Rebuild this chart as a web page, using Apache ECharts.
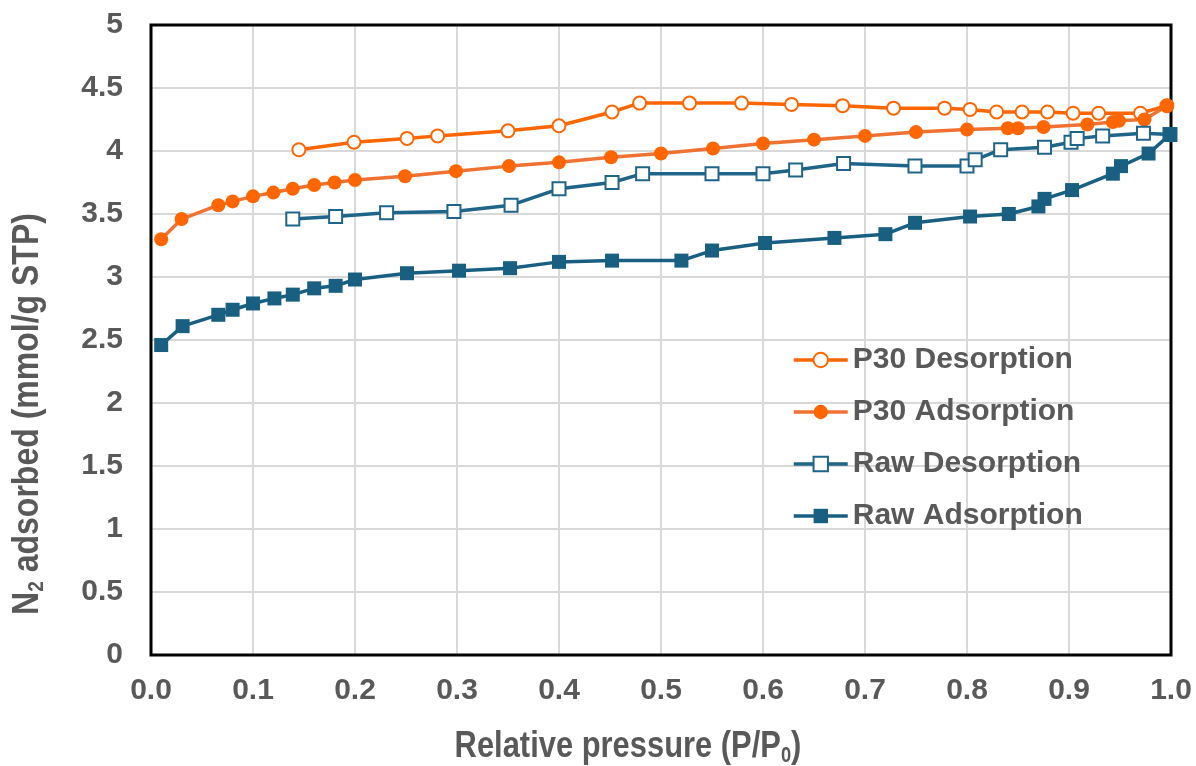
<!DOCTYPE html>
<html>
<head>
<meta charset="utf-8">
<script src="https://cdn.jsdelivr.net/npm/echarts@6/dist/echarts.min.js"></script>
<style>html,body{margin:0;padding:0;background:#fff;}#c{width:1196px;height:766px;}</style>
</head>
<body>
<div id="c"></div>
<script>
const seriesNames = ['P30 Desorption', 'P30 Adsorption', 'Raw Desorption', 'Raw Adsorption'];
const p30DesX = [0.145,0.199,0.251,0.281,0.350,0.400,0.452,0.479,0.528,0.579,0.628,0.678,0.728,0.778,0.803,0.829,0.854,0.879,0.904,0.929,0.970,0.996];
const p30DesY = [4.01,4.07,4.10,4.12,4.16,4.20,4.31,4.38,4.38,4.38,4.37,4.36,4.34,4.34,4.33,4.31,4.31,4.31,4.30,4.30,4.30,4.36];
const p30AdsX = [0.010,0.030,0.066,0.080,0.100,0.120,0.139,0.160,0.180,0.200,0.249,0.299,0.351,0.400,0.451,0.500,0.551,0.600,0.650,0.700,0.750,0.800,0.840,0.850,0.875,0.918,0.943,0.949,0.974,0.996];
const p30AdsY = [3.30,3.46,3.57,3.60,3.64,3.67,3.70,3.73,3.75,3.77,3.80,3.84,3.88,3.91,3.95,3.98,4.02,4.06,4.09,4.12,4.15,4.17,4.18,4.18,4.19,4.21,4.23,4.24,4.25,4.36];
const rawDesX = [0.139,0.181,0.231,0.297,0.353,0.400,0.452,0.482,0.550,0.600,0.632,0.679,0.749,0.800,0.808,0.833,0.876,0.902,0.908,0.933,0.973,0.999];
const rawDesY = [3.46,3.48,3.51,3.52,3.57,3.70,3.75,3.82,3.82,3.82,3.85,3.90,3.88,3.88,3.93,4.01,4.03,4.07,4.10,4.12,4.14,4.13];
const rawAdsX = [0.010,0.031,0.066,0.080,0.100,0.121,0.139,0.160,0.181,0.200,0.251,0.302,0.352,0.400,0.452,0.520,0.550,0.602,0.670,0.720,0.749,0.803,0.841,0.870,0.876,0.903,0.943,0.951,0.978,0.999];
const rawAdsY = [2.46,2.61,2.70,2.74,2.79,2.83,2.86,2.91,2.93,2.98,3.03,3.05,3.07,3.12,3.13,3.13,3.21,3.27,3.31,3.34,3.43,3.48,3.50,3.56,3.62,3.69,3.82,3.88,3.98,4.13];
const xAxisTitle = 'Relative pressure (P/P';
const xAxisTitleSub = '0';
const yAxisTitleMain = 'N';
const yAxisTitleSub = '2';
const yAxisTitleRest = ' adsorbed (mmol/g STP)';

const zip = (xs, ys) => xs.map((x, i) => [x, ys[i]]);
const ORANGE = '#FF6600';
const ORANGE_LINE = '#F07232';
const BLUE = '#185F82';
const BLUE2 = '#1E6589';
const TXT = '#595959';
const FF = '"Liberation Sans", Arial, sans-serif';

const titleRich = {
  a: {fontSize: 37, fontWeight: 'bold', fontFamily: FF, fill: TXT},
  s: {fontSize: 22, fontWeight: 'bold', fontFamily: FF, fill: TXT, verticalAlign: 'bottom', padding: [18, 0, 0, 0]}
};

const chart = echarts.init(document.getElementById('c'), null, {renderer: 'canvas'});
chart.setOption({
  animation: false,
  backgroundColor: '#fff',
  grid: {left: 151, right: 25, top: 25, bottom: 111, show: true, borderColor: '#000', borderWidth: 3, backgroundColor: 'transparent', z: 3},
  xAxis: {
    type: 'value', min: 0, max: 1, interval: 0.1,
    axisLine: {show: false}, axisTick: {show: false},
    splitLine: {show: true, lineStyle: {color: '#D9D9D9', width: 2}},
    axisLabel: {formatter: v => v.toFixed(1), fontSize: 30, fontWeight: 'bold', color: TXT, fontFamily: FF, margin: 21}
  },
  yAxis: {
    type: 'value', min: 0, max: 5, interval: 0.5,
    axisLine: {show: false}, axisTick: {show: false},
    splitLine: {show: true, lineStyle: {color: '#D9D9D9', width: 2}},
    axisLabel: {fontSize: 30, fontWeight: 'bold', color: TXT, fontFamily: FF, margin: 28}
  },
  legend: {
    orient: 'vertical', left: 787, top: 339, itemWidth: 54, itemHeight: 18, itemGap: 20,
    data: seriesNames,
    lineStyle: {width: 3.5},
    textStyle: {fontSize: 30, fontWeight: 'bold', color: TXT, fontFamily: FF, lineHeight: 32}
  },
  graphic: [
    {type: 'text', x: 628, y: 747, scaleX: 0.835, style: {
      text: '{a|' + xAxisTitle + '}{s|' + xAxisTitleSub + '}{a|)}',
      align: 'center', verticalAlign: 'middle', rich: titleRich
    }},
    {type: 'text', x: 28, y: 414, rotation: Math.PI / 2, scaleX: 0.865, style: {
      text: '{a|' + yAxisTitleMain + '}{s|' + yAxisTitleSub + '}{a|' + yAxisTitleRest + '}',
      align: 'center', verticalAlign: 'middle', rich: titleRich
    }}
  ],
  series: [
    {name: seriesNames[0], type: 'line', data: zip(p30DesX, p30DesY), symbol: 'emptyCircle', symbolSize: 13,
      lineStyle: {color: ORANGE, width: 3.5}, itemStyle: {color: ORANGE, borderColor: ORANGE, borderWidth: 2}},
    {name: seriesNames[1], type: 'line', data: zip(p30AdsX, p30AdsY), symbol: 'circle', symbolSize: 14,
      lineStyle: {color: ORANGE_LINE, width: 3.5}, itemStyle: {color: ORANGE}},
    {name: seriesNames[2], type: 'line', data: zip(rawDesX, rawDesY), symbol: 'emptyRect', symbolSize: 13,
      lineStyle: {color: BLUE2, width: 3.5}, itemStyle: {color: BLUE2, borderColor: BLUE2, borderWidth: 2}},
    {name: seriesNames[3], type: 'line', data: zip(rawAdsX, rawAdsY), symbol: 'rect', symbolSize: 14,
      lineStyle: {color: BLUE, width: 3.5}, itemStyle: {color: BLUE}}
  ]
});
</script>
</body>
</html>
